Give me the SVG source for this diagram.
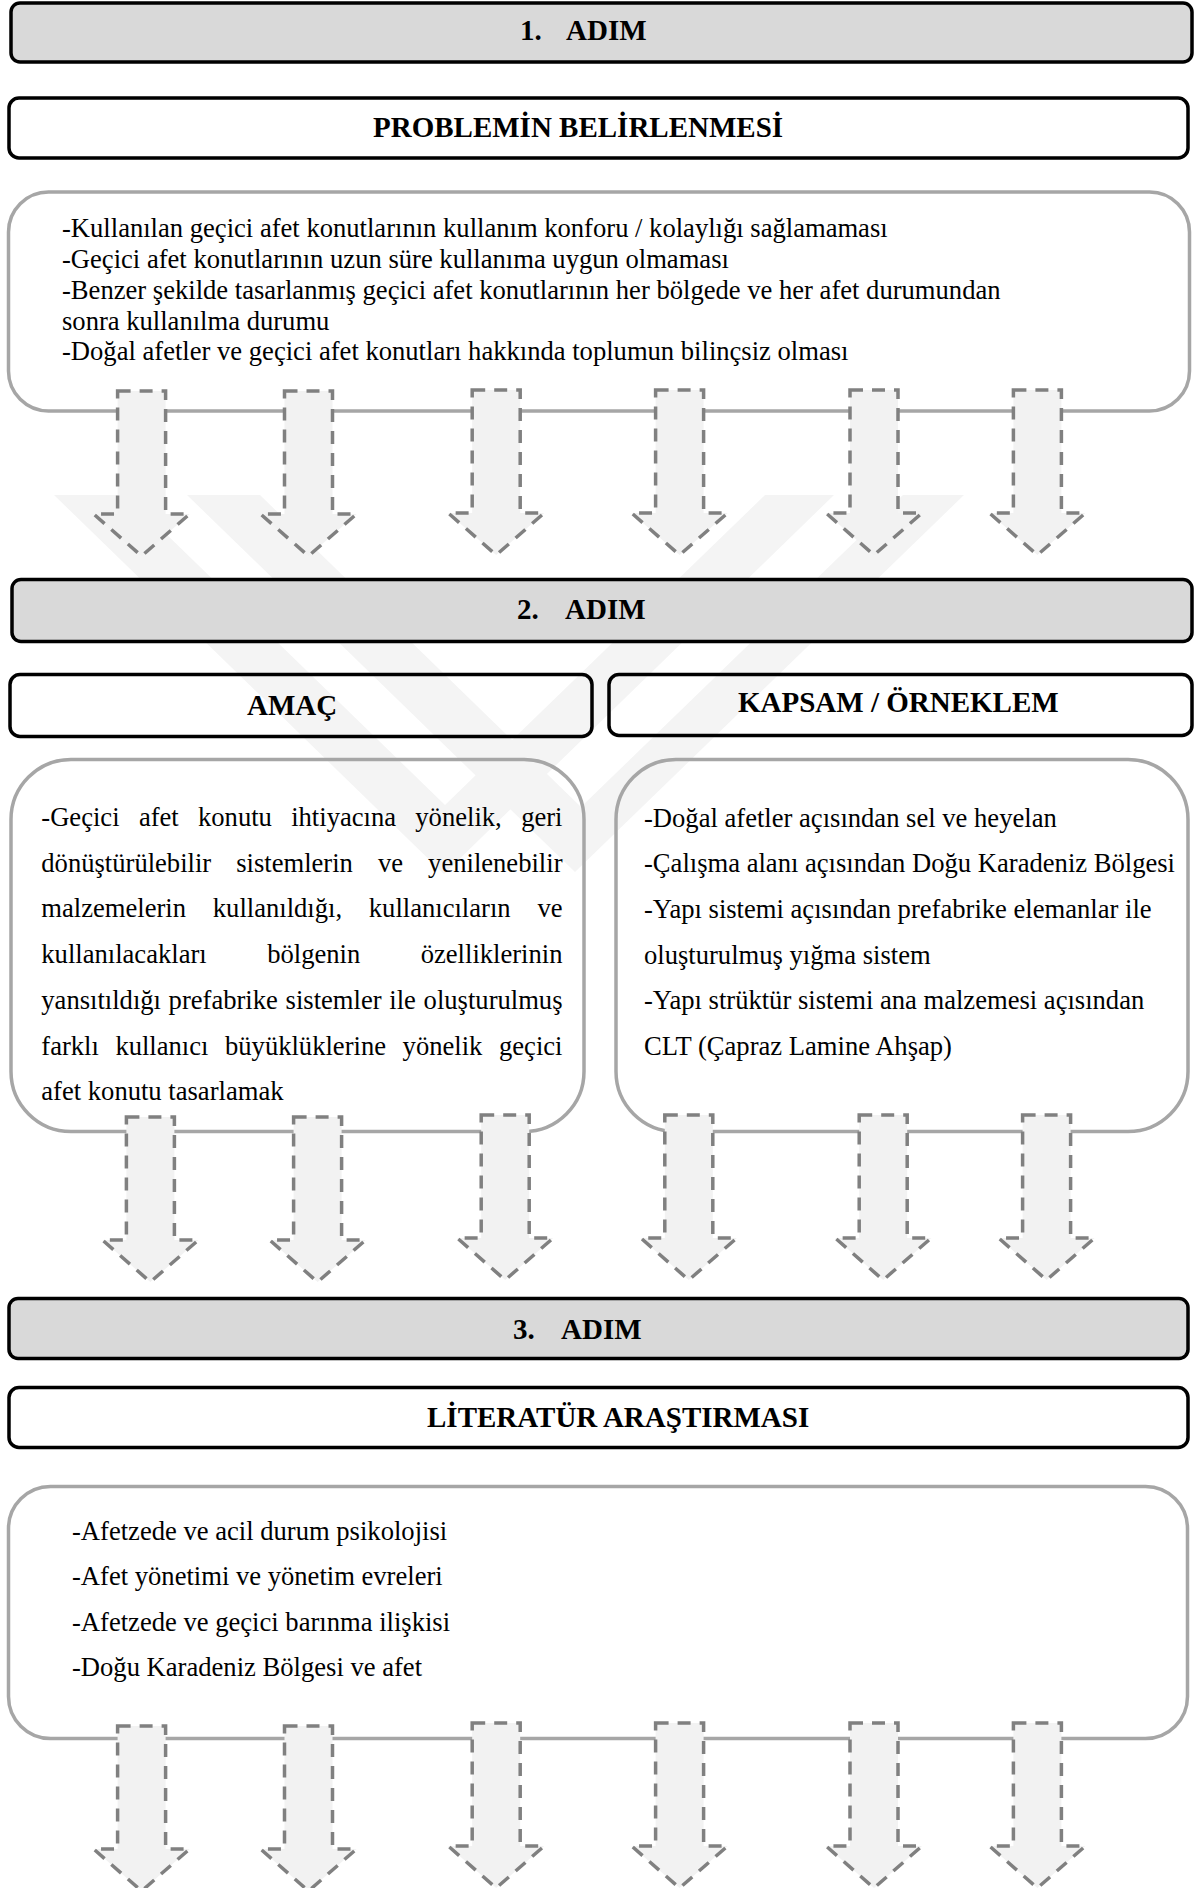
<svg xmlns="http://www.w3.org/2000/svg" width="1200" height="1888" viewBox="0 0 1200 1888">
<defs>
<style>
.step{fill:#d9d9d9;stroke:#000;stroke-width:3.5}
.head{fill:none;stroke:#000;stroke-width:3.5}
.content{fill:none;stroke:#a6a6a6;stroke-width:3.5}
.h{font-family:'Liberation Serif','Times New Roman',serif;font-weight:bold;font-size:29px;fill:#000}
.t{font-family:'Liberation Serif','Times New Roman',serif;font-size:26.6px;fill:#000}
.arrow{fill:#f2f2f2;stroke:#808080;stroke-width:3.5;stroke-dasharray:13 9}
.wm{fill:#f4f4f4}
</style>
<path id="arr" class="arrow" d="M-24,0 H24 V123 H48 L0,165 L-48,123 H-24 Z"/>
</defs>
<rect width="1200" height="1888" fill="#fff"/>

<g id="watermark">
<path class="wm" d="M54,495 L126,495 L445,805 L765,495 L834,495 L444,874 Z M187,495 L260,495 L581,807 L903,495 L964,495 L575,872 Z"/>
</g>

<g id="step1">
<rect class="step" x="11" y="3" width="1181" height="59" rx="9"/>
<text class="h" y="40"><tspan x="520">1.</tspan><tspan x="566">ADIM</tspan></text>
</g>
<g id="problem-title">
<rect class="head" x="9" y="98" width="1179" height="60" rx="10"/>
<text class="h" x="373" y="137">PROBLEMİN BELİRLENMESİ</text>
</g>
<g id="problem-content">
<rect class="content" x="8.5" y="192" width="1181" height="219" rx="40"/>
<text class="t" x="62" y="237">-Kullanılan geçici afet konutlarının kullanım konforu / kolaylığı sağlamaması</text>
<text class="t" x="62" y="268">-Geçici afet konutlarının uzun süre kullanıma uygun olmaması</text>
<text class="t" x="62" y="299">-Benzer şekilde tasarlanmış geçici afet konutlarının her bölgede ve her afet durumundan</text>
<text class="t" x="62" y="330">sonra kullanılma durumu</text>
<text class="t" x="62" y="360">-Doğal afetler ve geçici afet konutları hakkında toplumun bilinçsiz olması</text>
</g>

<g id="step2">
<rect class="step" x="12" y="579.5" width="1180" height="62" rx="9"/>
<text class="h" y="619"><tspan x="517">2.</tspan><tspan x="565">ADIM</tspan></text>
</g>
<g id="amac-title">
<rect class="head" x="10" y="674.5" width="582" height="62" rx="10"/>
<text class="h" x="247" y="715">AMAÇ</text>
</g>
<g id="kapsam-title">
<rect class="head" x="609" y="674.5" width="583" height="61" rx="10"/>
<text class="h" x="738" y="712">KAPSAM / ÖRNEKLEM</text>
</g>
<g id="amac-content">
<rect class="content" x="11" y="759.5" width="573" height="372" rx="60"/>
<text class="t" y="826"><tspan x="41.3">-Geçici</tspan><tspan x="138.9">afet</tspan><tspan x="198">konutu</tspan><tspan x="291.2">ihtiyacına</tspan><tspan x="415.3">yönelik,</tspan><tspan x="562.5" text-anchor="end">geri</tspan></text>
<text class="t" y="871.7"><tspan x="41.3">dönüştürülebilir</tspan><tspan x="236.2">sistemlerin</tspan><tspan x="377.9">ve</tspan><tspan x="562.5" text-anchor="end">yenilenebilir</tspan></text>
<text class="t" y="917.4"><tspan x="41.3">malzemelerin</tspan><tspan x="212.8">kullanıldığı,</tspan><tspan x="368.8">kullanıcıların</tspan><tspan x="562.5" text-anchor="end">ve</tspan></text>
<text class="t" y="963.1"><tspan x="41.3">kullanılacakları</tspan><tspan x="267.2">bölgenin</tspan><tspan x="562.5" text-anchor="end">özelliklerinin</tspan></text>
<text class="t" y="1008.8"><tspan x="41.3">yansıtıldığı</tspan><tspan x="168.6">prefabrike</tspan><tspan x="285.6">sistemler</tspan><tspan x="389.3">ile</tspan><tspan x="562.5" text-anchor="end">oluşturulmuş</tspan></text>
<text class="t" y="1054.5"><tspan x="41.3">farklı</tspan><tspan x="115.4">kullanıcı</tspan><tspan x="225">büyüklüklerine</tspan><tspan x="402.6">yönelik</tspan><tspan x="562.5" text-anchor="end">geçici</tspan></text>
<text class="t" x="41.3" y="1100.2">afet konutu tasarlamak</text>
</g>
<g id="kapsam-content">
<rect class="content" x="616" y="759.5" width="572" height="372" rx="60"/>
<text class="t" x="644" y="826.5">-Doğal afetler açısından sel ve heyelan</text>
<text class="t" x="644" y="872.2">-Çalışma alanı açısından Doğu Karadeniz Bölgesi</text>
<text class="t" x="644" y="917.9">-Yapı sistemi açısından prefabrike elemanlar ile</text>
<text class="t" x="644" y="963.6">oluşturulmuş yığma sistem</text>
<text class="t" x="644" y="1009.3">-Yapı strüktür sistemi ana malzemesi açısından</text>
<text class="t" x="644" y="1055">CLT (Çapraz Lamine Ahşap)</text>
</g>

<g id="step3">
<rect class="step" x="9" y="1298.5" width="1179" height="60" rx="9"/>
<text class="h" y="1339"><tspan x="513">3.</tspan><tspan x="561">ADIM</tspan></text>
</g>
<g id="literatur-title">
<rect class="head" x="9" y="1387.5" width="1179" height="60" rx="10"/>
<text class="h" x="427" y="1427">LİTERATÜR ARAŞTIRMASI</text>
</g>
<g id="literatur-content">
<rect class="content" x="8.5" y="1486.5" width="1179" height="252" rx="42"/>
<text class="t" x="72" y="1539.5">-Afetzede ve acil durum psikolojisi</text>
<text class="t" x="72" y="1585">-Afet yönetimi ve yönetim evreleri</text>
<text class="t" x="72" y="1630.5">-Afetzede ve geçici barınma ilişkisi</text>
<text class="t" x="72" y="1676">-Doğu Karadeniz Bölgesi ve afet</text>
</g>

<g id="connectors">
<use href="#arr" x="141.6" y="391"/>
<use href="#arr" x="308.5" y="391"/>
<use href="#arr" x="496.2" y="390"/>
<use href="#arr" x="679.6" y="390"/>
<use href="#arr" x="874" y="390"/>
<use href="#arr" x="1037.4" y="390"/>
<use href="#arr" x="150.4" y="1117"/>
<use href="#arr" x="317.6" y="1117"/>
<use href="#arr" x="505.2" y="1115"/>
<use href="#arr" x="688.8" y="1115"/>
<use href="#arr" x="883.2" y="1115"/>
<use href="#arr" x="1046.6" y="1115"/>
<use href="#arr" x="141.6" y="1726"/>
<use href="#arr" x="308.5" y="1726"/>
<use href="#arr" x="496.2" y="1723"/>
<use href="#arr" x="679.6" y="1723"/>
<use href="#arr" x="874" y="1723"/>
<use href="#arr" x="1037.4" y="1723"/>
</g>
</svg>
